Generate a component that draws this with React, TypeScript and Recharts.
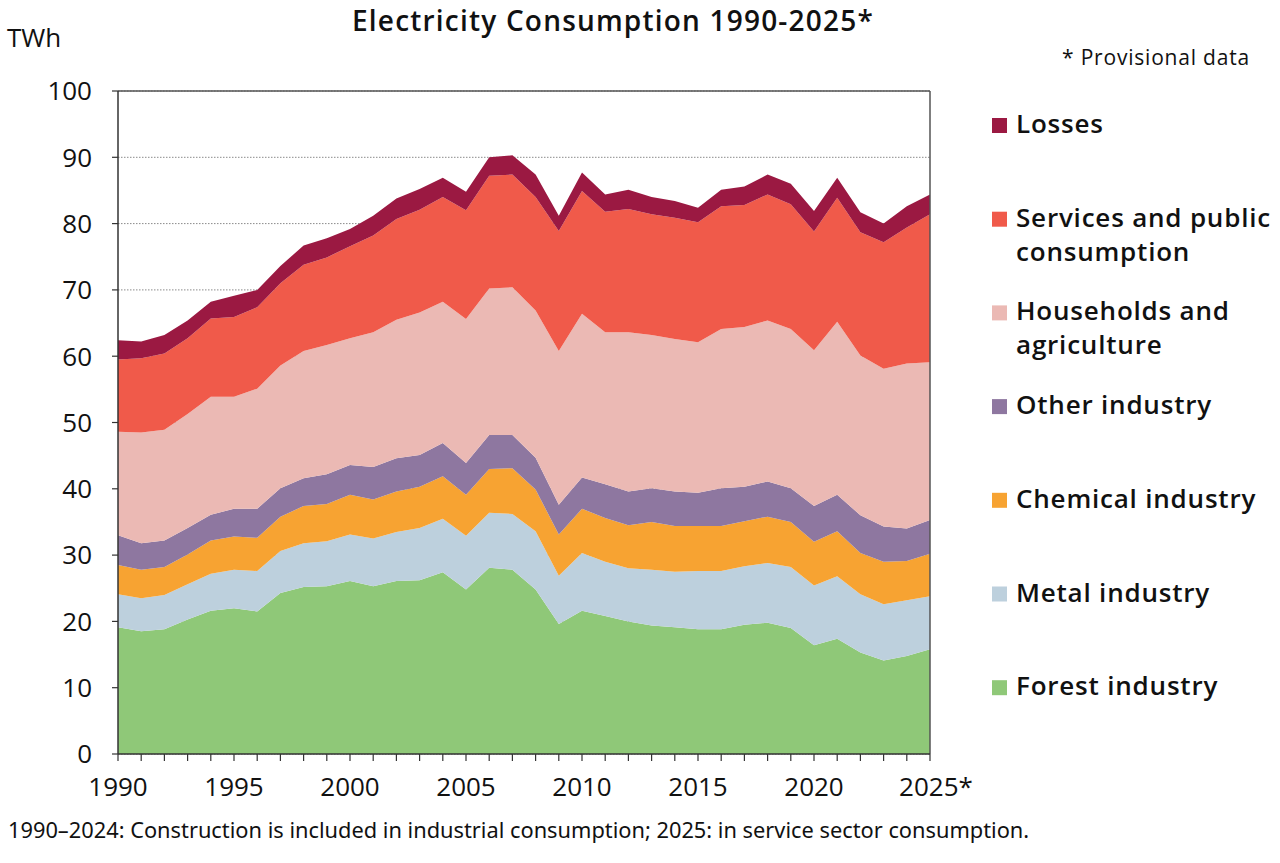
import React from "react";
import {
  AreaChart,
  Area,
  XAxis,
  YAxis,
  CartesianGrid,
  ReferenceLine,
} from "recharts";

// Electricity consumption by sector, TWh
const years = [
  1990, 1991, 1992, 1993, 1994, 1995, 1996, 1997, 1998, 1999, 2000, 2001,
  2002, 2003, 2004, 2005, 2006, 2007, 2008, 2009, 2010, 2011, 2012, 2013,
  2014, 2015, 2016, 2017, 2018, 2019, 2020, 2021, 2022, 2023, 2024, 2025,
];

const forestIndustry = [
  19.1, 18.5, 18.8, 20.3, 21.6, 22.0, 21.5, 24.3, 25.2, 25.3, 26.1, 25.3,
  26.1, 26.2, 27.4, 24.8, 28.1, 27.8, 24.8, 19.6, 21.6, 20.8, 20.0, 19.4,
  19.1, 18.8, 18.8, 19.5, 19.8, 19.0, 16.4, 17.4, 15.3, 14.1, 14.8, 15.8,
];

const metalIndustry = [
  5.0, 5.0, 5.2, 5.3, 5.6, 5.8, 6.1, 6.3, 6.6, 6.8, 7.0, 7.2,
  7.4, 7.9, 8.1, 8.1, 8.3, 8.4, 8.8, 7.3, 8.7, 8.2, 8.0, 8.4,
  8.4, 8.8, 8.8, 8.8, 9.0, 9.2, 9.0, 9.4, 8.8, 8.5, 8.4, 8.0,
];

const chemicalIndustry = [
  4.4, 4.3, 4.2, 4.5, 5.0, 5.0, 5.0, 5.2, 5.6, 5.6, 6.0, 5.9,
  6.1, 6.2, 6.4, 6.2, 6.6, 6.9, 6.3, 6.2, 6.7, 6.6, 6.5, 7.2,
  6.9, 6.8, 6.8, 6.8, 7.0, 6.8, 6.6, 6.8, 6.2, 6.4, 5.9, 6.4,
];

const otherIndustry = [
  4.5, 4.0, 4.0, 4.0, 3.9, 4.2, 4.4, 4.3, 4.2, 4.5, 4.5, 4.9,
  5.0, 4.8, 5.0, 4.8, 5.1, 5.0, 4.8, 4.5, 4.7, 5.1, 5.1, 5.1,
  5.2, 5.0, 5.7, 5.2, 5.3, 5.1, 5.4, 5.5, 5.7, 5.3, 4.9, 5.1,
];

const householdsAgriculture = [
  15.6, 16.7, 16.7, 17.2, 17.8, 16.9, 18.1, 18.5, 19.2, 19.5, 19.1, 20.3,
  20.9, 21.5, 21.3, 21.7, 22.1, 22.3, 22.2, 23.2, 24.7, 22.9, 24.0, 23.1,
  23.0, 22.7, 24.0, 24.1, 24.3, 24.0, 23.5, 26.1, 24.1, 23.8, 24.9, 23.8,
];

const servicesPublic = [
  10.9, 11.2, 11.5, 11.4, 11.8, 12.0, 12.3, 12.4, 13.0, 13.2, 13.9, 14.6,
  15.2, 15.5, 15.8, 16.4, 17.0, 17.0, 17.1, 18.1, 18.5, 18.2, 18.6, 18.2,
  18.3, 18.1, 18.5, 18.4, 19.0, 18.8, 17.9, 18.7, 18.6, 19.1, 20.5, 22.3,
];

const losses = [
  2.9, 2.5, 2.8, 2.7, 2.5, 3.2, 2.6, 2.6, 2.9, 2.9, 2.6, 3.0,
  3.1, 3.1, 2.9, 2.8, 2.8, 2.9, 3.4, 2.3, 2.8, 2.6, 2.9, 2.6,
  2.5, 2.2, 2.5, 2.8, 3.0, 3.1, 3.1, 3.0, 3.0, 2.8, 3.2, 3.0,
];

const yTicks = [0, 10, 20, 30, 40, 50, 60, 70, 80, 90, 100];
const labelledYears = [1990, 1995, 2000, 2005, 2010, 2015, 2020, 2025];
const provisionalYear = 2025;

// Stack order, bottom to top
const series = [
  { key: "forest", name: ["Forest industry"], color: "#8fc878", values: forestIndustry },
  { key: "metal", name: ["Metal industry"], color: "#bdd0dd", values: metalIndustry },
  { key: "chemical", name: ["Chemical industry"], color: "#f7a332", values: chemicalIndustry },
  { key: "other", name: ["Other industry"], color: "#8e77a0", values: otherIndustry },
  { key: "households", name: ["Households and", "agriculture"], color: "#ebb9b4", values: householdsAgriculture },
  { key: "services", name: ["Services and public", "consumption"], color: "#f05a4a", values: servicesPublic },
  { key: "losses", name: ["Losses"], color: "#9b1942", values: losses },
];

const data = years.map((year, i) => {
  const row: Record<string, number> = { year };
  series.forEach((s) => {
    row[s.key] = s.values[i];
  });
  return row;
});

const mainFont = "'Open Sans', 'Noto Sans', sans-serif";
const noteFont = "'Noto Sans', 'Open Sans', sans-serif";

const XTick = (props: any) => {
  const { x, y, payload } = props;
  const v = payload.value as number;
  if (!labelledYears.includes(v)) return null;
  return (
    <text
      x={v === provisionalYear ? x + 6 : x}
      y={y + 33}
      textAnchor="middle"
      fontFamily={mainFont}
      fontSize={26}
      fill="#111"
    >
      {v}
      {v === provisionalYear ? <tspan>*</tspan> : null}
    </text>
  );
};

const YTick = (props: any) => {
  const { x, y, payload } = props;
  return (
    <text x={x} y={y} dy="0.36em" textAnchor="end" fontFamily={mainFont} fontSize={26} fill="#111">
      {payload.value}
    </text>
  );
};

// Legend drawn top to bottom in reverse stack order
const legendItems = [...series].reverse();
const legendTop = 133;
const legendStep = 93.7;

export default function App() {
  return (
    <div style={{ position: "absolute", left: 0, top: 0, width: 1280, height: 863, background: "#fff" }}>
      <AreaChart
        width={1280}
        height={863}
        data={data}
        margin={{ top: 91, right: 350, bottom: 69, left: 58 }}
      >
        <CartesianGrid vertical={false} stroke="#8a8a8a" strokeDasharray="1.5 1.5" />
        <XAxis
          dataKey="year"
          type="number"
          domain={[1990, 2025]}
          ticks={years}
          interval={0}
          height={40}
          tickSize={7}
          tickLine={{ stroke: "#333", strokeWidth: 1.2 }}
          axisLine={{ stroke: "#333", strokeWidth: 1.5 }}
          tick={<XTick />}
        />
        <YAxis
          type="number"
          domain={[0, 100]}
          ticks={yTicks}
          interval={0}
          width={60}
          tickSize={6}
          tickMargin={20}
          tickLine={{ stroke: "#333", strokeWidth: 1.2 }}
          axisLine={{ stroke: "#333", strokeWidth: 1.5 }}
          tick={<YTick />}
        />
        {series.map((s) => (
          <Area
            key={s.key}
            type="linear"
            dataKey={s.key}
            stackId="total"
            stroke="none"
            fill={s.color}
            fillOpacity={1}
            isAnimationActive={false}
            activeDot={false}
          />
        ))}
        <ReferenceLine y={100} stroke="#555" strokeWidth={1.5} />
        <ReferenceLine x={2025} stroke="#555" strokeWidth={1.5} />
      </AreaChart>

      <svg
        width={1280}
        height={863}
        style={{ position: "absolute", left: 0, top: 0, pointerEvents: "none" }}
      >
        <text
          x={613}
          y={31}
          textAnchor="middle"
          fontFamily={mainFont}
          fontWeight={600}
          fontSize={28}
          letterSpacing={1.2}
          fill="#111"
        >
          Electricity Consumption 1990-2025*
        </text>
        <text x={7} y={47} fontFamily={mainFont} fontSize={26} fill="#111">
          TWh
        </text>
        <text x={1250} y={65} textAnchor="end" fontFamily={mainFont} fontSize={21} letterSpacing={0.8} fill="#111">
          * Provisional data
        </text>
        {legendItems.map((s, i) => {
          const base = legendTop + i * legendStep;
          return (
            <g key={s.key}>
              <rect x={992} y={base - 15} width={15} height={15} fill={s.color} />
              <text
                x={1016}
                y={base}
                fontFamily={mainFont}
                fontWeight={600}
                fontSize={26}
                letterSpacing={0.8}
                fill="#111"
              >
                {s.name.map((line, j) => (
                  <tspan key={j} x={1016} dy={j === 0 ? 0 : 34}>
                    {line}
                  </tspan>
                ))}
              </text>
            </g>
          );
        })}
        <text x={8} y={838} fontFamily={noteFont} fontSize={21.8} fill="#111">
          1990–2024: Construction is included in industrial consumption; 2025: in service sector consumption.
        </text>
      </svg>
    </div>
  );
}
